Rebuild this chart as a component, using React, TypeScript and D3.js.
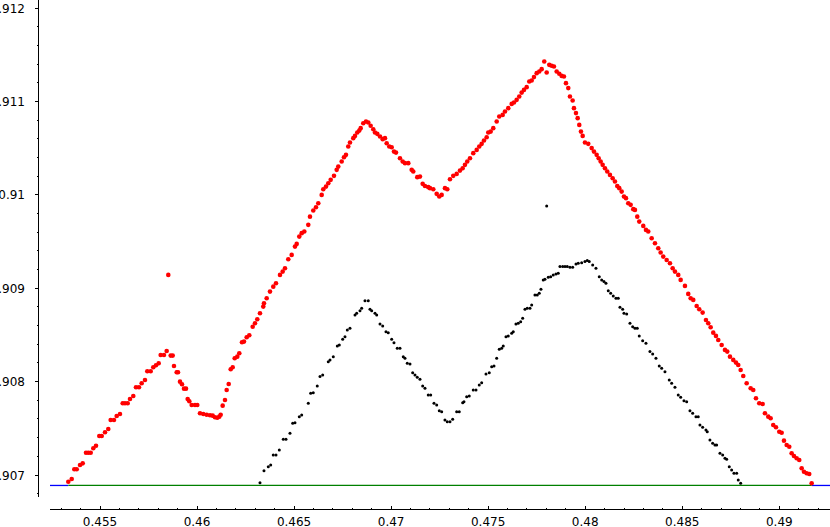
import React from 'react';
import * as d3 from 'd3';

const redX = [
  0.453367, 0.453542, 0.453676, 0.4538, 0.45397, 0.454109, 0.454279, 0.454397, 0.454521, 0.454655,
  0.454794, 0.454964, 0.455088, 0.455258, 0.455428, 0.455551, 0.455721, 0.45586, 0.45603, 0.45617,
  0.456288, 0.456427, 0.456546, 0.456716, 0.456855, 0.457009, 0.457148, 0.457318, 0.457437, 0.457612,
  0.457746, 0.457885, 0.458024, 0.458127, 0.458297, 0.458436, 0.458642, 0.458746, 0.458519, 0.458812,
  0.458952, 0.459019, 0.459122, 0.459225, 0.459328, 0.459431, 0.459518, 0.459601, 0.459724, 0.459894,
  0.460013, 0.460152, 0.460322, 0.460497, 0.460667, 0.460806, 0.460925, 0.461043, 0.461146, 0.461218,
  0.461321, 0.46144, 0.461527, 0.461631, 0.461734, 0.461837, 0.46194, 0.462074, 0.462177, 0.462316,
  0.462419, 0.462558, 0.462692, 0.462867, 0.462986, 0.463104, 0.463243, 0.463413, 0.463449, 0.463588,
  0.463758, 0.463928, 0.464068, 0.464274, 0.464413, 0.464531, 0.464701, 0.464876, 0.465046, 0.465134,
  0.465268, 0.465392, 0.465526, 0.465732, 0.465819, 0.465989, 0.466128, 0.466247, 0.466422, 0.466504,
  0.466644, 0.466762, 0.466886, 0.467056, 0.467195, 0.467277, 0.467452, 0.467571, 0.467674, 0.467792,
  0.46788, 0.46805, 0.468138, 0.468256, 0.468359, 0.468431, 0.468565, 0.468704, 0.468823, 0.468946,
  0.46908, 0.469168, 0.469287, 0.469426, 0.469565, 0.469683, 0.469771, 0.469905, 0.470028, 0.470147,
  0.47025, 0.470456, 0.470595, 0.470714, 0.470884, 0.471059, 0.471141, 0.471347, 0.471486, 0.471625,
  0.471744, 0.471914, 0.472002, 0.472172, 0.472347, 0.472481, 0.472604, 0.472774, 0.472893, 0.473032,
  0.473202, 0.473377, 0.473547, 0.473686, 0.473805, 0.473923, 0.474062, 0.474232, 0.474408, 0.474541,
  0.474665, 0.474784, 0.474923, 0.475005, 0.475129, 0.475263, 0.475438, 0.475572, 0.475747, 0.475866,
  0.476036, 0.476211, 0.476329, 0.476468, 0.476602, 0.476726, 0.476844, 0.476984, 0.477118, 0.477241,
  0.47736, 0.477499, 0.477633, 0.477756, 0.47789, 0.478014, 0.478148, 0.478272, 0.47839, 0.478529,
  0.478663, 0.478787, 0.478905, 0.479008, 0.479127, 0.479214, 0.479353, 0.47942, 0.479524, 0.479611,
  0.479694, 0.479781, 0.479869, 0.479987, 0.480157, 0.480332, 0.480451, 0.48059, 0.480693, 0.480796,
  0.480899, 0.481018, 0.481136, 0.481275, 0.481414, 0.481533, 0.481651, 0.481754, 0.481878, 0.481996,
  0.4821, 0.482218, 0.482342, 0.482476, 0.482563, 0.482682, 0.482785, 0.482991, 0.48313, 0.483248,
  0.483424, 0.483594, 0.483764, 0.483887, 0.484021, 0.484196, 0.484366, 0.484506, 0.484624, 0.484794,
  0.484918, 0.485139, 0.485309, 0.485433, 0.485567, 0.485742, 0.485876, 0.486051, 0.486221, 0.48634,
  0.486463, 0.486597, 0.486736, 0.486855, 0.48703, 0.4872, 0.487319, 0.487458, 0.487628, 0.487767,
  0.487885, 0.488009, 0.488143, 0.488318, 0.488524, 0.488658, 0.488797, 0.488967, 0.489142, 0.489261,
  0.489431, 0.489554, 0.489688, 0.489828, 0.489998, 0.490121, 0.49024, 0.490379, 0.490513, 0.490636,
  0.490755, 0.490894, 0.491028, 0.491152, 0.49127, 0.491409, 0.491543, 0.491667,
];

const redY = [
  0.906928, 0.906957, 0.907061, 0.907061, 0.907107, 0.907125, 0.907239, 0.907239, 0.907239, 0.907286,
  0.907314, 0.907418, 0.907418, 0.907458, 0.907493, 0.907589, 0.907589, 0.907632, 0.907654, 0.907768,
  0.907768, 0.907768, 0.907815, 0.907847, 0.90794, 0.90794, 0.907983, 0.908018, 0.908111, 0.908111,
  0.908154, 0.908176, 0.908197, 0.908286, 0.908286, 0.908329, 0.908279, 0.908279, 0.909144, 0.908168,
  0.908101, 0.908101, 0.908, 0.907972, 0.907925, 0.907925, 0.907815, 0.90779, 0.90775, 0.90775,
  0.90775, 0.907661, 0.907654, 0.907646, 0.90764, 0.907636, 0.907618, 0.907614, 0.907625, 0.907646,
  0.907743, 0.907804, 0.907911, 0.907975, 0.908133, 0.908154, 0.908251, 0.908268, 0.908304, 0.908422,
  0.908429, 0.908476, 0.908497, 0.908589, 0.908626, 0.908669, 0.908733, 0.908804, 0.90884, 0.908894,
  0.908965, 0.909018, 0.909055, 0.909144, 0.909179, 0.909215, 0.909312, 0.909358, 0.909447, 0.909476,
  0.909554, 0.909591, 0.909608, 0.90968, 0.909768, 0.909833, 0.909869, 0.909912, 0.910001, 0.910062,
  0.91009, 0.910126, 0.910162, 0.910205, 0.910269, 0.910304, 0.910358, 0.910405, 0.91043, 0.910519,
  0.910562, 0.910609, 0.910633, 0.910669, 0.91069, 0.910716, 0.910769, 0.910787, 0.910776, 0.910741,
  0.910705, 0.910669, 0.910655, 0.910626, 0.910598, 0.910609, 0.910555, 0.910519, 0.910512, 0.910465,
  0.910454, 0.910394, 0.910358, 0.910341, 0.910341, 0.910269, 0.910251, 0.910191, 0.910197, 0.910119,
  0.910097, 0.910084, 0.910073, 0.910062, 0.910012, 0.909983, 0.910001, 0.910073, 0.910062, 0.910169,
  0.910205, 0.910226, 0.910261, 0.910287, 0.910323, 0.910358, 0.910394, 0.910448, 0.910483, 0.910519,
  0.910548, 0.910583, 0.910619, 0.910669, 0.910679, 0.910716, 0.910787, 0.91084, 0.910858, 0.910894,
  0.91093, 0.910976, 0.91099, 0.911019, 0.911055, 0.911097, 0.911126, 0.911155, 0.911215, 0.911226,
  0.911263, 0.911305, 0.911323, 0.911348, 0.91143, 0.911312, 0.911394, 0.911384, 0.911376, 0.911323,
  0.911298, 0.911276, 0.911269, 0.911198, 0.911145, 0.911055, 0.911012, 0.91093, 0.910877, 0.910823,
  0.910751, 0.910679, 0.910633, 0.910562, 0.910548, 0.910502, 0.910465, 0.91043, 0.910394, 0.910358,
  0.910323, 0.910287, 0.910251, 0.910215, 0.91018, 0.910144, 0.910097, 0.910073, 0.910036, 0.909983,
  0.909966, 0.909912, 0.909894, 0.909848, 0.90984, 0.909768, 0.909715, 0.909669, 0.909626, 0.909608,
  0.909537, 0.909483, 0.90943, 0.909383, 0.90934, 0.909304, 0.909269, 0.909215, 0.909179, 0.909144,
  0.90909, 0.909026, 0.90894, 0.908894, 0.908876, 0.908811, 0.908776, 0.90874, 0.908661, 0.908626,
  0.908583, 0.908525, 0.90849, 0.908447, 0.908393, 0.90834, 0.908322, 0.908268, 0.908233, 0.908204,
  0.908179, 0.908125, 0.908061, 0.907983, 0.907929, 0.907911, 0.907822, 0.907768, 0.907761, 0.907661,
  0.907625, 0.907608, 0.907536, 0.907511, 0.907464, 0.907453, 0.907368, 0.907322, 0.907303, 0.907233,
  0.907204, 0.907179, 0.907161, 0.907072, 0.907035, 0.907018, 0.907011, 0.906911,
];

const blackX = [
  0.463243, 0.463449, 0.463671, 0.463794, 0.463928, 0.464068, 0.464238, 0.464444, 0.464583, 0.464789,
  0.464928, 0.465046, 0.465268, 0.465392, 0.465732, 0.465855, 0.465989, 0.466195, 0.466334, 0.466473,
  0.466762, 0.46685, 0.46702, 0.467226, 0.467329, 0.467504, 0.467622, 0.467741, 0.46788, 0.468138,
  0.468225, 0.468395, 0.468483, 0.468653, 0.468823, 0.46891, 0.468998, 0.469168, 0.469256, 0.469426,
  0.469565, 0.469735, 0.469853, 0.470028, 0.470147, 0.470317, 0.470456, 0.470626, 0.470714, 0.470832,
  0.470971, 0.47111, 0.471229, 0.471347, 0.471486, 0.471625, 0.471744, 0.471914, 0.472038, 0.472208,
  0.472347, 0.472481, 0.472604, 0.472774, 0.472893, 0.473032, 0.473171, 0.473377, 0.473511, 0.473686,
  0.473753, 0.473892, 0.474026, 0.474232, 0.474372, 0.474541, 0.474665, 0.474887, 0.475057, 0.47518,
  0.475299, 0.475438, 0.475572, 0.475696, 0.475778, 0.475917, 0.476036, 0.476211, 0.476293, 0.476432,
  0.476551, 0.476674, 0.476777, 0.476896, 0.477014, 0.477154, 0.477241, 0.477411, 0.47753, 0.477633,
  0.47772, 0.477839, 0.477926, 0.478096, 0.47822, 0.478354, 0.478493, 0.478612, 0.478699, 0.478838,
  0.478957, 0.479075, 0.479214, 0.479353, 0.479524, 0.479642, 0.479817, 0.479987, 0.480106, 0.480209,
  0.480384, 0.480554, 0.480724, 0.480848, 0.480966, 0.481069, 0.481188, 0.481311, 0.481445, 0.481584,
  0.481703, 0.48179, 0.481929, 0.481996, 0.482136, 0.482306, 0.482445, 0.482563, 0.482682, 0.482785,
  0.48296, 0.48313, 0.483336, 0.483475, 0.483645, 0.483815, 0.483939, 0.484109, 0.48433, 0.484454,
  0.484624, 0.484794, 0.484918, 0.485088, 0.485227, 0.485397, 0.485536, 0.485706, 0.485824, 0.485912,
  0.486051, 0.486221, 0.486288, 0.486427, 0.486566, 0.486685, 0.486772, 0.486942, 0.487082, 0.4872,
  0.487288, 0.487422, 0.487545, 0.487664, 0.487803, 0.487885, 0.488009, 0.478014,
];

const blackY = [
  0.906917, 0.907046, 0.907089, 0.907107, 0.907214, 0.907214, 0.907268, 0.907383, 0.907383, 0.907447,
  0.907554, 0.907561, 0.907625, 0.907643, 0.907768, 0.907876, 0.907882, 0.907954, 0.908054, 0.908072,
  0.908214, 0.908233, 0.908268, 0.908383, 0.908393, 0.908454, 0.908482, 0.908554, 0.908572, 0.908715,
  0.908733, 0.908761, 0.908787, 0.908868, 0.908868, 0.908776, 0.908761, 0.908733, 0.908715, 0.908618,
  0.908597, 0.908536, 0.908525, 0.908454, 0.908418, 0.908358, 0.908358, 0.908268, 0.908251, 0.908197,
  0.90819, 0.908096, 0.908072, 0.908047, 0.908026, 0.907954, 0.907929, 0.907857, 0.907857, 0.907768,
  0.90775, 0.907689, 0.907678, 0.907589, 0.907571, 0.907571, 0.907597, 0.907678, 0.907678, 0.907775,
  0.907786, 0.907839, 0.907847, 0.907911, 0.907911, 0.907965, 0.907989, 0.908083, 0.908096, 0.908161,
  0.908168, 0.908251, 0.908347, 0.908358, 0.908383, 0.908482, 0.90849, 0.908519, 0.908536, 0.908618,
  0.908626, 0.908643, 0.908679, 0.908776, 0.908787, 0.908787, 0.908822, 0.908929, 0.908929, 0.908947,
  0.90899, 0.90909, 0.909097, 0.909119, 0.909125, 0.909144, 0.909154, 0.909162, 0.909233, 0.909233,
  0.909233, 0.909233, 0.909226, 0.909226, 0.909261, 0.909269, 0.909275, 0.909286, 0.909297, 0.909286,
  0.909251, 0.909215, 0.909125, 0.90909, 0.909072, 0.909055, 0.908975, 0.908947, 0.908919, 0.908894,
  0.908894, 0.908797, 0.908776, 0.908733, 0.908726, 0.908626, 0.908589, 0.908572, 0.908572, 0.90849,
  0.908439, 0.908412, 0.908322, 0.908297, 0.908251, 0.908168, 0.908144, 0.908107, 0.908018, 0.907983,
  0.90794, 0.907857, 0.907833, 0.907796, 0.907786, 0.907689, 0.907661, 0.907625, 0.907625, 0.907536,
  0.907511, 0.907482, 0.907464, 0.907375, 0.90734, 0.907322, 0.907322, 0.907233, 0.907214, 0.907179,
  0.907168, 0.907089, 0.907054, 0.907018, 0.907018, 0.906946, 0.906911, 0.909883,
];

const levelY = 0.906888;

const xTickValues = [0.455, 0.46, 0.465, 0.47, 0.475, 0.48, 0.485, 0.49];
const xTickLabels = ['0.455', '0.46', '0.465', '0.47', '0.475', '0.48', '0.485', '0.49'];
const yTickValues = [0.907, 0.908, 0.909, 0.91, 0.911, 0.912];
const yTickLabels = ['0.907', '0.908', '0.909', '0.91', '0.911', '0.912'];

export default function App() {
  const W = 830;
  const H = 527;
  const x = d3.scaleLinear().domain([0.455, 0.49]).range([100, 779.3]);
  const y = d3.scaleLinear().domain([0.907, 0.912]).range([475, 8.3]);

  const xAxisY = 509.5;
  const xAxisX0 = 50;
  const yAxisX = 38.5;
  const yAxisY1 = 497;

  const xMinor = d3.range(453, 493).map((k) => k / 1000);
  const yMinor = d3.range(4534, 4561).map((k) => k / 5000);

  const red = redX.map((v, i) => [v, redY[i]]);
  const black = blackX.map((v, i) => [v, blackY[i]]);

  const redExtent = d3.extent(redX) as [number, number];
  const font = 'DejaVu Sans, sans-serif';
  const lvl = y(levelY);
  const gx0 = x(redExtent[0]);
  const gx1 = x(redExtent[1]);

  return (
    <svg
      width={W}
      height={H}
      style={{ position: 'absolute', left: 0, top: 0, background: '#fff' }}
      xmlns="http://www.w3.org/2000/svg"
    >
      <rect x={0} y={0} width={W} height={H} fill="#fff" />
      {/* horizontal level line: blue outside the red range, green inside */}
      <line x1={xAxisX0} x2={gx0} y1={lvl} y2={lvl} stroke="#0000ff" strokeWidth={1.3} />
      <line x1={gx1} x2={W} y1={lvl} y2={lvl} stroke="#0000ff" strokeWidth={1.3} />
      <line x1={gx0} x2={gx1} y1={lvl} y2={lvl} stroke="#008000" strokeWidth={1.3} />
      {/* black points */}
      {black.map((d, i) => (
        <circle key={'b' + i} cx={x(d[0])} cy={y(d[1])} r={1.5} fill="#000" />
      ))}
      {/* red points */}
      {red.map((d, i) => (
        <circle key={'r' + i} cx={x(d[0])} cy={y(d[1])} r={2.3} fill="#ff0000" />
      ))}

      {/* y axis */}
      <line x1={yAxisX} x2={yAxisX} y1={0} y2={yAxisY1} stroke="#000" strokeWidth={1} shapeRendering="crispEdges" />
      {yMinor.map((v, i) => (
        <line
          key={'ym' + i}
          x1={yAxisX - 2}
          x2={yAxisX}
          y1={y(v)}
          y2={y(v)}
          stroke="#000"
          strokeWidth={1}
          shapeRendering="crispEdges"
        />
      ))}
      {yTickValues.map((v, i) => (
        <g key={'yt' + i}>
          <line
            x1={yAxisX - 4}
            x2={yAxisX}
            y1={y(v)}
            y2={y(v)}
            stroke="#000"
            strokeWidth={1}
            shapeRendering="crispEdges"
          />
          <text x={25} y={y(v) + 4.5} textAnchor="end" fontFamily={font} fontSize={12} fill="#000">
            {yTickLabels[i]}
          </text>
        </g>
      ))}

      {/* x axis */}
      <line x1={xAxisX0} x2={W} y1={xAxisY} y2={xAxisY} stroke="#000" strokeWidth={1} shapeRendering="crispEdges" />
      {xMinor.map((v, i) => (
        <line
          key={'xm' + i}
          x1={x(v)}
          x2={x(v)}
          y1={xAxisY}
          y2={xAxisY - 2}
          stroke="#000"
          strokeWidth={1}
          shapeRendering="crispEdges"
        />
      ))}
      {xTickValues.map((v, i) => (
        <g key={'xt' + i}>
          <line
            x1={x(v)}
            x2={x(v)}
            y1={xAxisY}
            y2={xAxisY - 4}
            stroke="#000"
            strokeWidth={1}
            shapeRendering="crispEdges"
          />
          <text x={x(v)} y={525.5} textAnchor="middle" fontFamily={font} fontSize={12} fill="#000">
            {xTickLabels[i]}
          </text>
        </g>
      ))}
    </svg>
  );
}
